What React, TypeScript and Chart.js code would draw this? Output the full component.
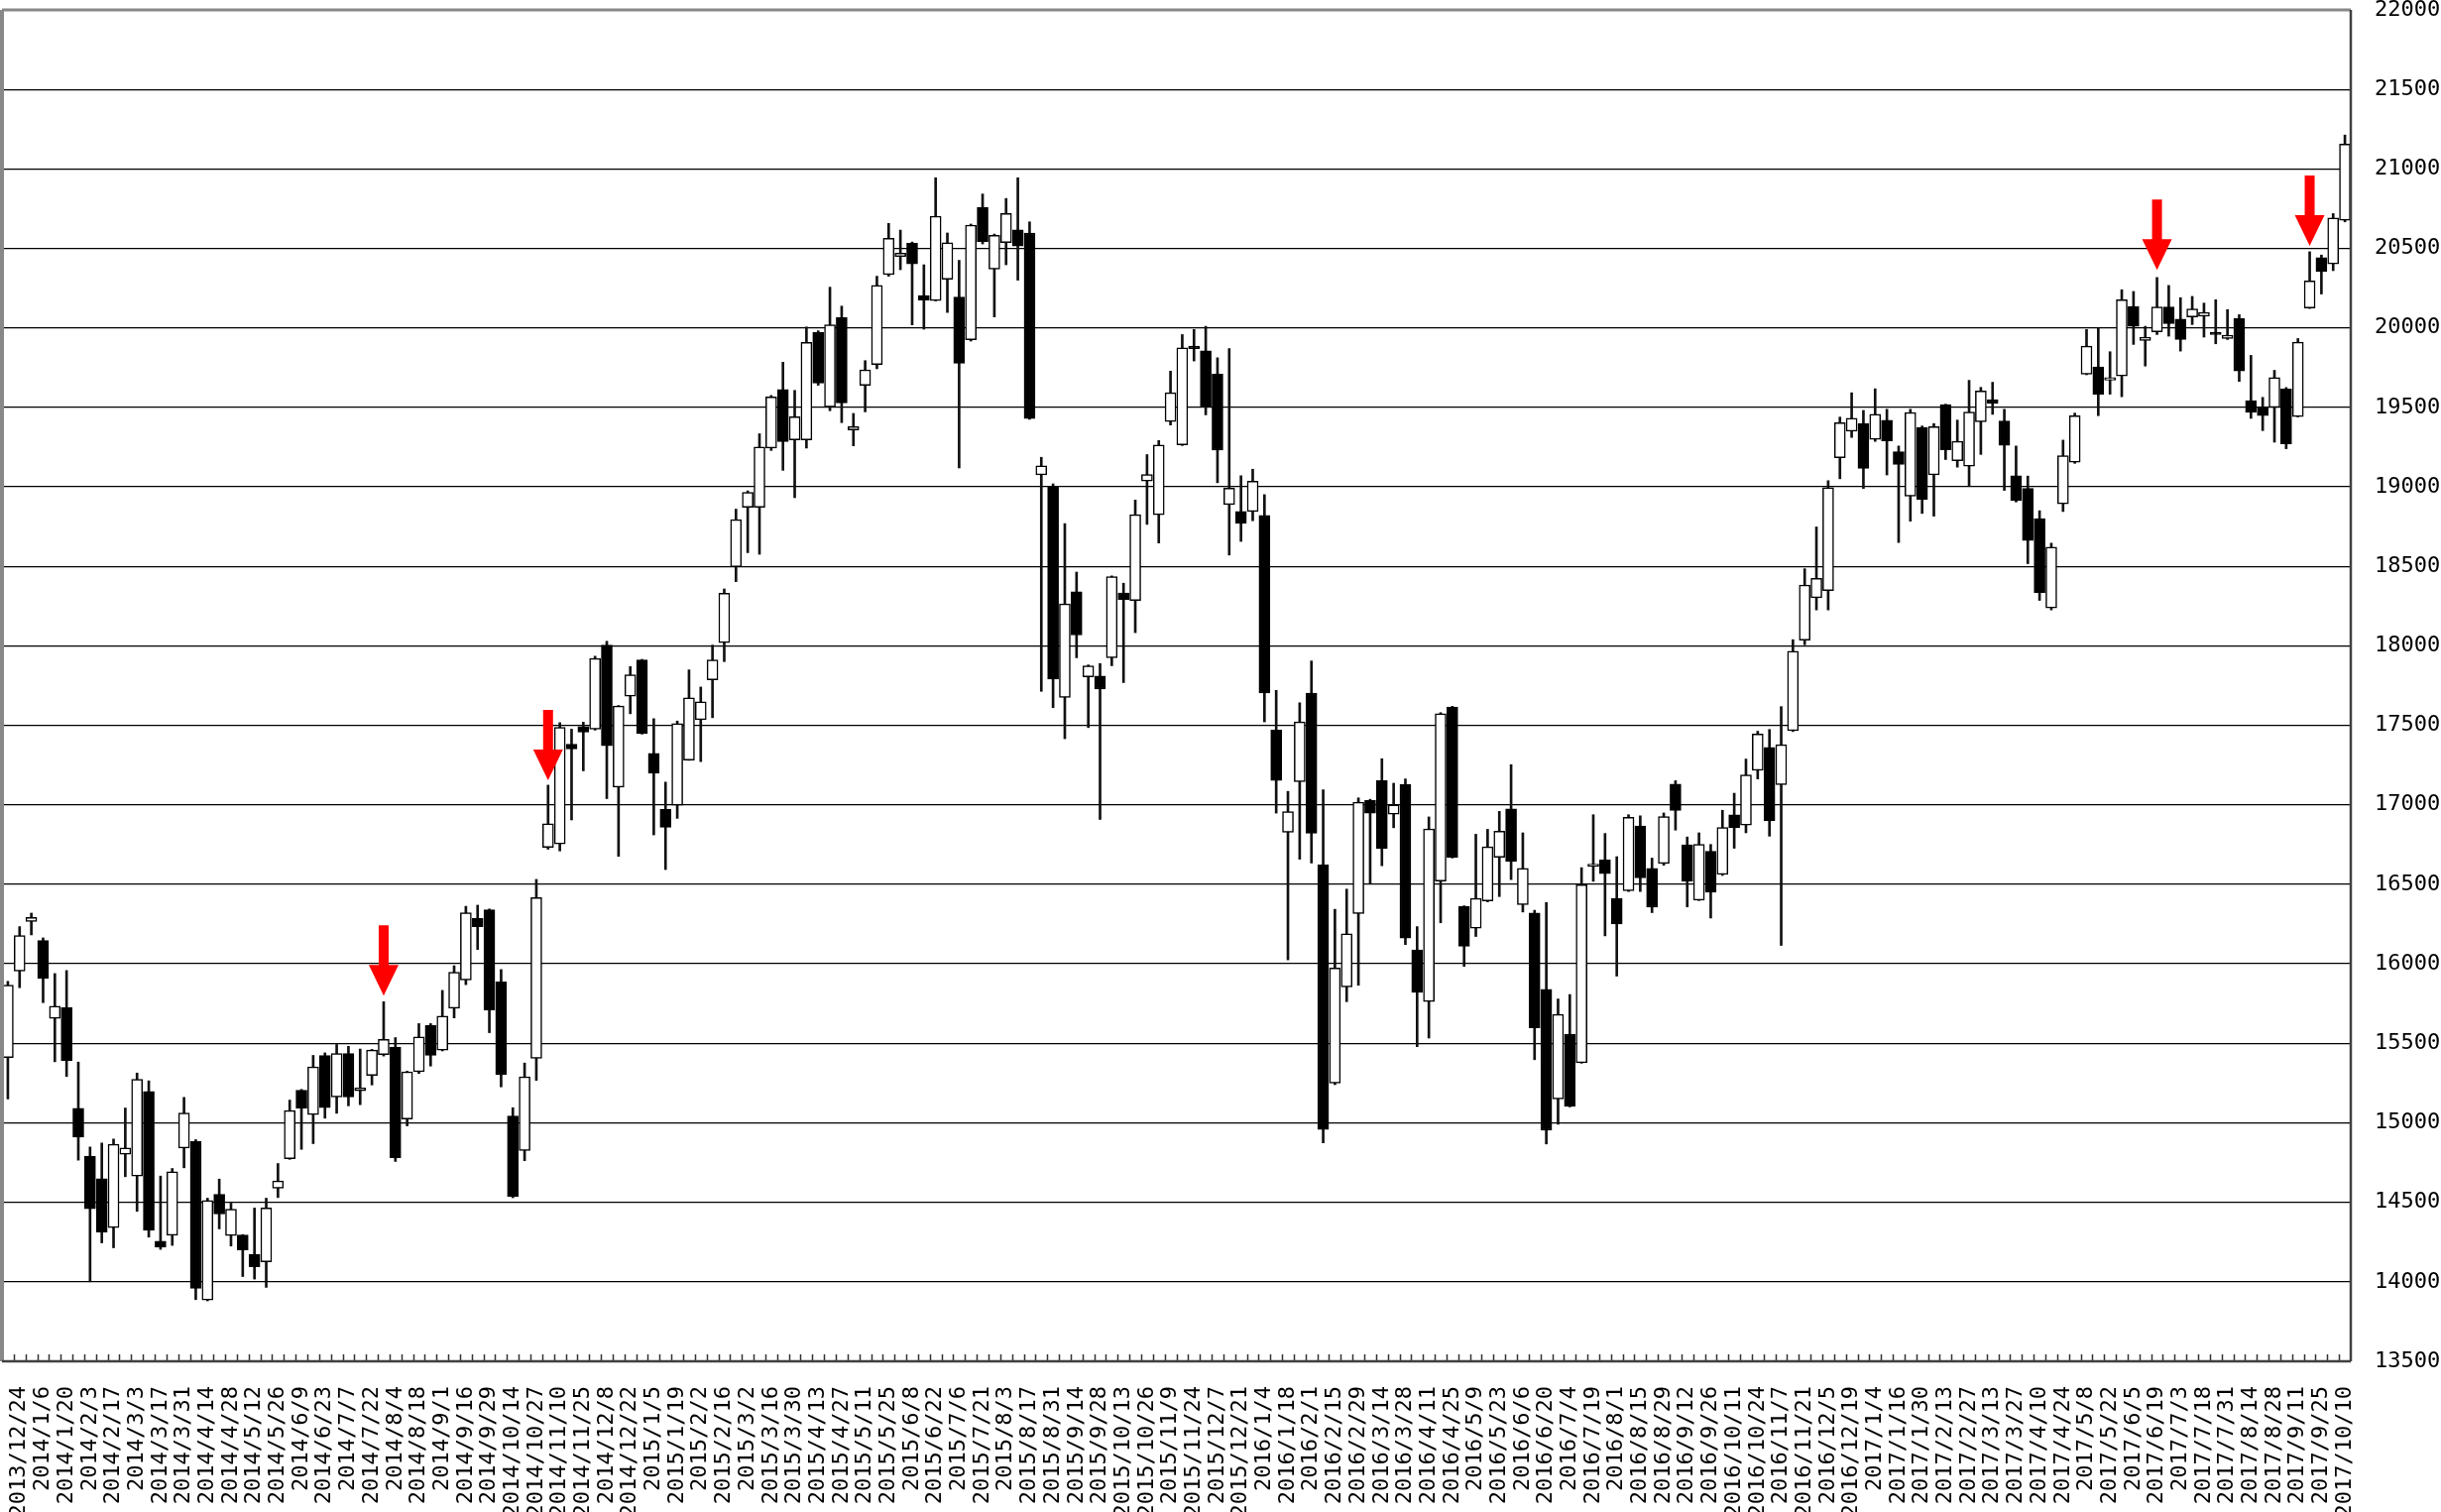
import React, { useEffect, useRef } from 'react';
import { Chart, registerables } from 'chart.js';

Chart.register(...registerables);

// Labels shown on every other weekly slot (odd slots)
const tickLabels = [
  '2013/12/24', '2014/1/6', '2014/1/20', '2014/2/3', '2014/2/17', '2014/3/3', '2014/3/17', '2014/3/31', '2014/4/14', '2014/4/28',
  '2014/5/12', '2014/5/26', '2014/6/9', '2014/6/23', '2014/7/7', '2014/7/22', '2014/8/4', '2014/8/18', '2014/9/1', '2014/9/16',
  '2014/9/29', '2014/10/14', '2014/10/27', '2014/11/10', '2014/11/25', '2014/12/8', '2014/12/22', '2015/1/5', '2015/1/19', '2015/2/2',
  '2015/2/16', '2015/3/2', '2015/3/16', '2015/3/30', '2015/4/13', '2015/4/27', '2015/5/11', '2015/5/25', '2015/6/8', '2015/6/22',
  '2015/7/6', '2015/7/21', '2015/8/3', '2015/8/17', '2015/8/31', '2015/9/14', '2015/9/28', '2015/10/13', '2015/10/26', '2015/11/9',
  '2015/11/24', '2015/12/7', '2015/12/21', '2016/1/4', '2016/1/18', '2016/2/1', '2016/2/15', '2016/2/29', '2016/3/14', '2016/3/28',
  '2016/4/11', '2016/4/25', '2016/5/9', '2016/5/23', '2016/6/6', '2016/6/20', '2016/7/4', '2016/7/19', '2016/8/1', '2016/8/15',
  '2016/8/29', '2016/9/12', '2016/9/26', '2016/10/11', '2016/10/24', '2016/11/7', '2016/11/21', '2016/12/5', '2016/12/19', '2017/1/4',
  '2017/1/16', '2017/1/30', '2017/2/13', '2017/2/27', '2017/3/13', '2017/3/27', '2017/4/10', '2017/4/24', '2017/5/8', '2017/5/22',
  '2017/6/5', '2017/6/19', '2017/7/3', '2017/7/18', '2017/7/31', '2017/8/14', '2017/8/28', '2017/9/11', '2017/9/25', '2017/10/10',
];

const openPrices = [
  15410, 15954, 16267, 16147, 15656, 15725, 15091, 14790, 14649, 14341,
  14802, 14665, 15197, 14256, 14293, 14842, 14883, 13886, 14551, 14291,
  14295, 14173, 14125, 14588, 14775, 15205, 15052, 15424, 15162, 15436,
  15202, 15298, 15429, 15476, 15024, 15321, 15612, 15457, 15721, 15898,
  16286, 16340, 15886, 15043, 14826, 15405, 16733, 16755, 17381, 17493,
  17476, 18005, 17112, 17683, 17911, 17324, 16971, 16998, 17282, 17536,
  17787, 18020, 18497, 18871, 18871, 19244, 19612, 19296, 19296, 19971,
  19503, 20065, 19358, 19639, 19770, 20335, 20450, 20533, 20203, 20172,
  20306, 20194, 19925, 20758, 20369, 20536, 20617, 20597, 19075, 19005,
  17675, 18341, 17805, 17811, 17925, 18333, 18286, 19036, 18825, 19411,
  19264, 19885, 19856, 19710, 18889, 18845, 18845, 18821, 17471, 16828,
  17146, 17703, 16623, 15250, 15855, 16316, 17027, 17153, 16941, 17129,
  16087, 15762, 16521, 17615, 16360, 16224, 16395, 16670, 16974, 16373,
  16320, 15839, 15150, 15558, 15378, 16612, 16654, 16412, 16459, 16867,
  16601, 16631, 17131, 16749, 16401, 16708, 16562, 16938, 16873, 17217,
  17361, 17127, 17466, 18036, 18303, 18347, 19184, 19350, 19398, 19299,
  19420, 19221, 18942, 19374, 19075, 19517, 19165, 19131, 19410, 19549,
  19415, 19070, 18990, 18801, 18238, 18893, 19155, 19708, 19754, 19671,
  19698, 20135, 19921, 19975, 20131, 20056, 20069, 20073, 19973, 19933,
  20058, 19542, 19504, 19500, 19615, 19442, 20125, 20442, 20402, 20677,
];

const highPrices = [
  15890, 16234, 16319, 16163, 15939, 15958, 15382, 14848, 14873, 14898,
  15093, 15313, 15264, 14665, 14713, 15160, 14894, 14526, 14646, 14495,
  14297, 14464, 14526, 14744, 15143, 15210, 15424, 15440, 15493, 15481,
  15464, 15462, 15762, 15536, 15325, 15624, 15624, 15833, 15988, 16362,
  16369, 16345, 15964, 15095, 15376, 16531, 17124, 17517, 17476, 17520,
  17935, 18029, 17625, 17870, 17915, 17542, 17143, 17527, 17849, 17741,
  18005, 18358, 18860, 18975, 19334, 19575, 19784, 19607, 20006, 19982,
  20256, 20137, 19462, 19794, 20325, 20657, 20615, 20540, 20397, 20944,
  20597, 20425, 20653, 20842, 20590, 20814, 20944, 20667, 19186, 19019,
  18769, 18464, 17880, 17889, 18440, 18394, 18917, 19203, 19292, 19728,
  19958, 19990, 20010, 19812, 19870, 19070, 19111, 18951, 17720, 17085,
  17642, 17905, 17095, 16343, 16470, 17044, 17035, 17290, 17136, 17163,
  16234, 16924, 17580, 17620, 16365, 16815, 16846, 16959, 17253, 16824,
  16337, 16386, 15779, 15807, 16605, 16938, 16820, 16674, 16938, 16931,
  16665, 16949, 17152, 16798, 16824, 16751, 16966, 17073, 17288, 17463,
  17474, 17618, 18039, 18485, 18748, 19039, 19439, 19592, 19481, 19617,
  19488, 19257, 19488, 19383, 19398, 19520, 19420, 19670, 19626, 19658,
  19488, 19257, 19068, 18850, 18646, 19294, 19464, 19990, 20000, 19850,
  20240, 20229, 20010, 20317, 20267, 20190, 20198, 20156, 20177, 20115,
  20083, 19827, 19563, 19733, 19625, 19933, 20479, 20458, 20719, 21213,
];

const lowPrices = [
  15150, 15850, 16182, 15756, 15384, 15291, 14765, 14000, 14245, 14214,
  14661, 14443, 14281, 14204, 14229, 14717, 13888, 13880, 14333, 14225,
  14033, 14017, 13965, 14530, 14770, 14833, 14869, 15029, 15060, 15107,
  15114, 15238, 15420, 14757, 14981, 15310, 15357, 15452, 15660, 15869,
  16090, 15567, 15226, 14529, 14762, 15267, 16721, 16710, 16905, 17214,
  17470, 17039, 16676, 17573, 17445, 16811, 16593, 16915, 17280, 17272,
  17548, 17901, 18404, 18586, 18576, 19229, 19104, 18932, 19244, 19639,
  19479, 19404, 19258, 19472, 19743, 20325, 20366, 20019, 19992, 20170,
  20097, 19119, 19917, 20528, 20069, 20397, 20300, 19425, 17714, 17611,
  17416, 17925, 17486, 16908, 17875, 17769, 18083, 18764, 18647, 19389,
  19260, 19792, 19453, 19026, 18571, 18657, 18787, 17522, 16948, 16025,
  16658, 16634, 14874, 15240, 15762, 15865, 16504, 16617, 16856, 16121,
  15479, 15533, 16258, 16666, 15984, 16172, 16390, 16423, 16530, 16326,
  15397, 14867, 14991, 15100, 15375, 16519, 16176, 15923, 16455, 16455,
  16322, 16620, 16841, 16358, 16398, 16288, 16556, 16727, 16824, 17163,
  16803, 16116, 17461, 18007, 18226, 18226, 19051, 19311, 18990, 19286,
  19075, 18650, 18784, 18833, 18816, 19172, 19124, 19002, 19204, 19456,
  18978, 18905, 18517, 18286, 18226, 18845, 19148, 19705, 19448, 19583,
  19567, 19896, 19760, 19958, 19948, 19854, 20021, 19942, 19900, 19927,
  19663, 19431, 19354, 19281, 19240, 19440, 20122, 20213, 20360, 20667,
];

const closePrices = [
  15866, 16178, 16292, 15908, 15733, 15392, 14910, 14459, 14312, 14865,
  14842, 15274, 14324, 14218, 14692, 15062, 13959, 14511, 14426, 14457,
  14200, 14094, 14464, 14634, 15077, 15093, 15352, 15095, 15436, 15162,
  15219, 15457, 15524, 14781, 15321, 15540, 15424, 15671, 15948, 16321,
  16233, 15710, 15302, 14536, 15290, 16417, 16881, 17488, 17352, 17457,
  17921, 17372, 17621, 17818, 17448, 17199, 16859, 17511, 17673, 17648,
  17911, 18331, 18794, 18966, 19251, 19566, 19285, 19441, 19909, 19653,
  20019, 19528, 19379, 19736, 20268, 20564, 20470, 20403, 20175, 20703,
  20536, 19778, 20647, 20542, 20583, 20719, 20514, 19430, 19133, 17791,
  18264, 18069, 17875, 17728, 18436, 18291, 18825, 19078, 19264, 19592,
  19875, 19870, 19504, 19231, 18992, 18770, 19036, 17703, 17153, 16958,
  17522, 16822, 14959, 15974, 16189, 17016, 16948, 16726, 16999, 16162,
  15820, 16849, 17574, 16668, 16111, 16412, 16736, 16835, 16644, 16601,
  15597, 14953, 15682, 15103, 16498, 16627, 16567, 16251, 16921, 16541,
  16356, 16927, 16964, 16519, 16751, 16451, 16858, 16856, 17189, 17446,
  16901, 17378, 17966, 18383, 18425, 18995, 19403, 19432, 19116, 19456,
  19289, 19141, 19468, 18922, 19379, 19233, 19286, 19471, 19604, 19524,
  19262, 18913, 18663, 18335, 18621, 19197, 19447, 19885, 19583, 19688,
  20177, 20010, 19942, 20131, 20027, 19927, 20119, 20098, 19958, 19954,
  19729, 19469, 19448, 19688, 19271, 19910, 20296, 20354, 20692, 21156,
];

// Red marker arrows: slot index and price at the arrow tip
const arrowWeeks = [32, 46, 183, 196];
const arrowTips = [15800, 17155, 20365, 20515];

const yMin = 13500;
const yMax = 22000;
const yStep = 500;

const FONT = { family: '"DejaVu Sans Mono", monospace', size: 22 };

const overlayPlugin = {
  id: 'overlay',
  afterDatasetsDraw(chart: any) {
    const { ctx, chartArea: a, scales } = chart;
    const xs = scales.x;
    const ys = scales.y;
    ctx.save();
    // arrows
    ctx.fillStyle = '#ff0000';
    arrowWeeks.forEach((w, k) => {
      const x = xs.getPixelForValue(w);
      const tip = ys.getPixelForValue(arrowTips[k]);
      const headH = 31, headW = 30, shaftW = 10, shaftL = 40;
      ctx.beginPath();
      ctx.moveTo(x, tip);
      ctx.lineTo(x - headW / 2, tip - headH);
      ctx.lineTo(x - shaftW / 2, tip - headH);
      ctx.lineTo(x - shaftW / 2, tip - headH - shaftL);
      ctx.lineTo(x + shaftW / 2, tip - headH - shaftL);
      ctx.lineTo(x + shaftW / 2, tip - headH);
      ctx.lineTo(x + headW / 2, tip - headH);
      ctx.closePath();
      ctx.fill();
    });
    // inward tick marks at slot boundaries
    const n = openPrices.length;
    const step = (a.right - a.left) / n;
    ctx.strokeStyle = '#333';
    ctx.lineWidth = 1.5;
    ctx.beginPath();
    for (let i = 1; i < n; i++) {
      const x = Math.round(a.left + i * step) + 0.5;
      ctx.moveTo(x, a.bottom);
      ctx.lineTo(x, a.bottom - 7);
    }
    ctx.stroke();
    // frame
    ctx.strokeStyle = '#888';
    ctx.lineWidth = 4;
    ctx.beginPath();
    ctx.moveTo(a.left, a.top);
    ctx.lineTo(a.left, a.bottom);
    ctx.stroke();
    ctx.lineWidth = 3;
    ctx.beginPath();
    ctx.moveTo(a.left, a.top);
    ctx.lineTo(a.right, a.top);
    ctx.stroke();
    ctx.strokeStyle = '#404040';
    ctx.lineWidth = 2.5;
    ctx.beginPath();
    ctx.moveTo(a.right, a.top);
    ctx.lineTo(a.right, a.bottom);
    ctx.moveTo(a.left, a.bottom);
    ctx.lineTo(a.right, a.bottom);
    ctx.stroke();
    ctx.restore();
  },
};

const zeroPadding = (s: any) => {
  s.paddingTop = 0;
  s.paddingBottom = 0;
  s.paddingLeft = 0;
  s.paddingRight = 0;
};

export default function App() {
  const canvasRef = useRef<HTMLCanvasElement | null>(null);

  useEffect(() => {
    document.body.style.margin = '0';
    const canvas = canvasRef.current;
    if (!canvas) return;
    const labels = openPrices.map((_, i) => i);
    const bodies = openPrices.map((o, i) => [o, closePrices[i]]);
    const wicks = lowPrices.map((l, i) => [l, highPrices[i]]);
    const bodyColors = openPrices.map((o, i) => (closePrices[i] >= o ? '#ffffff' : '#000000'));

    const chart = new Chart(canvas, {
      type: 'bar',
      data: {
        labels,
        datasets: [
          {
            label: 'body',
            data: bodies as any,
            backgroundColor: bodyColors,
            borderColor: '#000000',
            borderWidth: 1.5,
            borderSkipped: false,
            barThickness: 11,
            grouped: false,
            order: 0,
          } as any,
          {
            label: 'wick',
            data: wicks as any,
            backgroundColor: '#111111',
            borderWidth: 0,
            barThickness: 2,
            grouped: false,
            order: 1,
          } as any,
        ],
      },
      options: {
        responsive: false,
        devicePixelRatio: 1,
        animation: false,
        events: [],
        layout: { padding: { left: 2, top: 10, right: 0, bottom: 0 } },
        plugins: { legend: { display: false }, tooltip: { enabled: false } },
        scales: {
          x: {
            type: 'category',
            offset: true,
            grid: { display: false },
            border: { display: false },
            ticks: {
              autoSkip: false,
              maxRotation: 90,
              minRotation: 90,
              padding: 17,
              color: '#000',
              font: FONT,
              callback: (v: any, i: number) => (i % 2 === 1 ? tickLabels[(i - 1) / 2] : ''),
            },
            afterFit: (s: any) => {
              s.height = 152;
              zeroPadding(s);
            },
          },
          y: {
            position: 'right',
            min: yMin,
            max: yMax,
            grid: { color: '#000', lineWidth: 1.3, drawTicks: false },
            border: { display: false },
            ticks: {
              stepSize: yStep,
              padding: 24,
              color: '#000',
              font: FONT,
              callback: (v: any) => String(v),
            },
            afterFit: (s: any) => {
              s.width = 91;
              zeroPadding(s);
            },
          },
        },
      },
      plugins: [overlayPlugin],
    });
    return () => chart.destroy();
  }, []);

  return (
    <div style={{ width: 2462, height: 1525, background: '#fff' }}>
      <canvas ref={canvasRef} width={2462} height={1525} style={{ display: 'block' }} />
    </div>
  );
}
